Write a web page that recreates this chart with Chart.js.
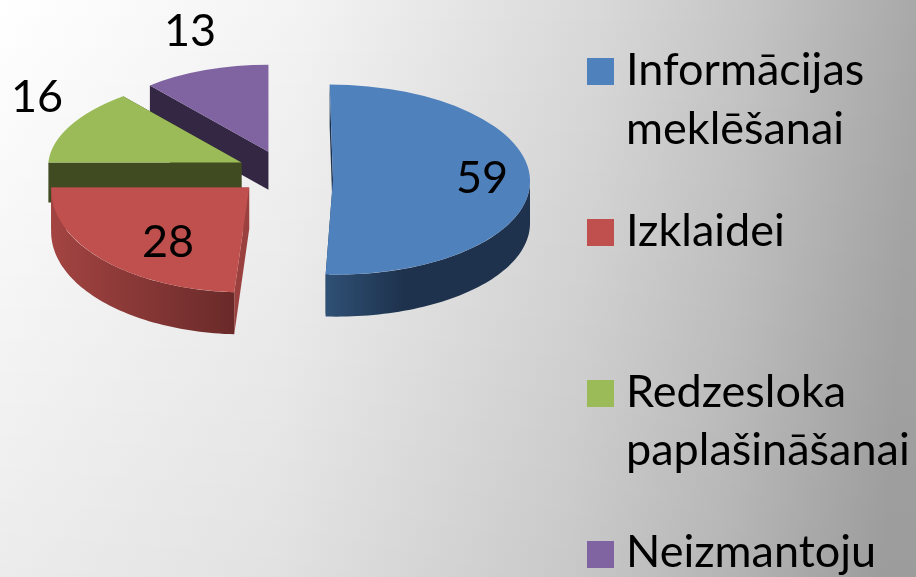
<!DOCTYPE html>
<html><head><meta charset="utf-8">
<style>html,body{margin:0;padding:0;background:#fff}canvas{display:block}</style>
<script src="https://cdn.jsdelivr.net/npm/chart.js@4"></script>
</head><body><canvas id="c" width="916" height="577"></canvas>
<script>
const categories = ['Informācijas meklēšanai', 'Izklaidei', 'Redzesloka paplašināšanai', 'Neizmantoju'];
const values = [59, 28, 16, 13];
const topColors = ['#4f81bd', '#c0504d', '#9bbb59', '#8064a2'];
const cutColors = ['#1f334e', '#9a4140', '#414b22', '#332743'];
const rimFrom = ['#2f5075', '#a34442', '#5c7034', '#4d3c62'];
const rimTo = ['#1e324d', '#692a29', '#414b22', '#332743'];
const scaleXs = [0.995, 1, 0.975, 0.925];
const scaleYs = [0.48, 0.53, 0.44, 0.44];
const skews = [0.035, -0.04, -0.1, 0];
const nudgeXs = [3, 2, 3, 3];
const nudgeYs = [7, 0, 0, 1];
const depths = [42, 42, 40, 38];
const legendBoxTops = [58, 219, 380, 541];
const legendBaselines = [[85, 144], [246], [407, 465], [567]];
const valueLabelSpots = [[482, 178], [168, 242], [37, 97], [190, 31]];
const FONT = '"Lato"';
const FONT_PX = 45;
const EXPLODE = 48, BASE_R = 198, FLAT = 0.47;

function frame(arc, i) {
  const mid = (arc.startAngle + arc.endAngle) / 2;
  return {
    ax: arc.x, ay: arc.y,
    sx: arc.x + Math.cos(mid) * EXPLODE + nudgeXs[i],
    sy: arc.y + Math.sin(mid) * EXPLODE * FLAT + nudgeYs[i],
    kx: scaleXs[i], ky: scaleYs[i], skew: skews[i]
  };
}
function pt(arc, f, a, d) {
  const dy = Math.sin(a) * arc.outerRadius * f.ky;
  return [f.sx + Math.cos(a) * arc.outerRadius * f.kx + dy * f.skew, f.sy + dy + d];
}
function drawCut(ctx, arc, f, a, d, color) {
  const p = pt(arc, f, a, 0);
  ctx.fillStyle = color;
  ctx.beginPath();
  ctx.moveTo(f.sx, f.sy);
  ctx.lineTo(p[0], p[1]);
  ctx.lineTo(p[0], p[1] + d);
  ctx.lineTo(f.sx, f.sy + d);
  ctx.closePath();
  ctx.fill();
}
function drawRim(ctx, arc, f, from, to, d, i) {
  if (to <= from) return;
  const n = 60, pts = [];
  for (let k = 0; k <= n; k++) pts.push(from + (to - from) * k / n);
  const xs = pts.map(a => pt(arc, f, a, 0)[0]);
  const g = ctx.createLinearGradient(Math.min(...xs), 0, Math.max(...xs), 0);
  g.addColorStop(0, rimFrom[i]);
  g.addColorStop(i === 0 ? 0.38 : 1, rimTo[i]);
  if (i === 0) g.addColorStop(1, rimTo[i]);
  ctx.fillStyle = g;
  ctx.beginPath();
  pts.forEach((a, k) => { const p = pt(arc, f, a, 0); k ? ctx.lineTo(p[0], p[1]) : ctx.moveTo(p[0], p[1]); });
  pts.slice().reverse().forEach(a => { const p = pt(arc, f, a, d); ctx.lineTo(p[0], p[1]); });
  ctx.closePath();
  ctx.fill();
}

const scene = {
  id: 'scene',
  beforeDraw(chart) {
    const { ctx, width, height } = chart;
    const g = ctx.createLinearGradient(0, 0, width, height * 0.1);
    g.addColorStop(0, '#ffffff');
    g.addColorStop(0.33, '#f3f3f3');
    g.addColorStop(0.655, '#d8d8d8');
    g.addColorStop(0.82, '#c4c4c4');
    g.addColorStop(1, '#a8a8a8');
    const shade = ctx.createLinearGradient(0, 0, 0, height);
    shade.addColorStop(0, 'rgba(0,0,0,0)');
    shade.addColorStop(1, 'rgba(0,0,0,0.07)');
    ctx.save();
    ctx.fillStyle = g;
    ctx.fillRect(0, 0, width, height);
    ctx.fillStyle = shade;
    ctx.fillRect(0, 0, width, height);
    ctx.restore();
  },
  beforeDatasetDraw(chart, args) {
    const ctx = chart.ctx;
    const arcs = chart.getDatasetMeta(args.index).data;
    [3, 2, 1, 0].forEach(i => {
      const arc = arcs[i], f = frame(arc, i), d = depths[i];
      drawCut(ctx, arc, f, arc.startAngle, d, cutColors[i]);
      drawCut(ctx, arc, f, arc.endAngle, d, cutColors[i]);
      drawRim(ctx, arc, f, Math.max(arc.startAngle, 0), Math.min(arc.endAngle, Math.PI), d, i);
      ctx.save();
      ctx.transform(f.kx, 0, f.skew * f.ky, f.ky, f.sx, f.sy);
      ctx.translate(-f.ax, -f.ay);
      arc.draw(ctx);
      ctx.restore();
    });
    return false;
  },
  afterDraw(chart) {
    const ctx = chart.ctx;
    ctx.save();
    ctx.fillStyle = '#000';
    ctx.font = FONT_PX + 'px ' + FONT;
    ctx.textAlign = 'center';
    ctx.textBaseline = 'middle';
    values.forEach((v, i) => {
      ctx.fillText(String(v), valueLabelSpots[i][0], valueLabelSpots[i][1]);
    });
    ctx.textBaseline = 'alphabetic';
    ctx.textAlign = 'left';
    categories.forEach((name, i) => {
      ctx.fillStyle = topColors[i];
      ctx.fillRect(587, legendBoxTops[i], 27, 27);
      ctx.fillStyle = '#000';
      name.split(' ').forEach((line, k) => ctx.fillText(line, 626, legendBaselines[i][k]));
    });
    ctx.restore();
  }
};

new Chart(document.getElementById('c'), {
  type: 'pie',
  data: {
    labels: categories,
    datasets: [{ data: values, backgroundColor: topColors, borderWidth: 0 }]
  },
  options: {
    responsive: false,
    animation: false,
    radius: BASE_R,
    layout: { padding: { left: 0, top: 0, right: 352, bottom: 233 } },
    plugins: { legend: { display: false }, tooltip: { enabled: false } }
  },
  plugins: [scene]
});
</script></body></html>
